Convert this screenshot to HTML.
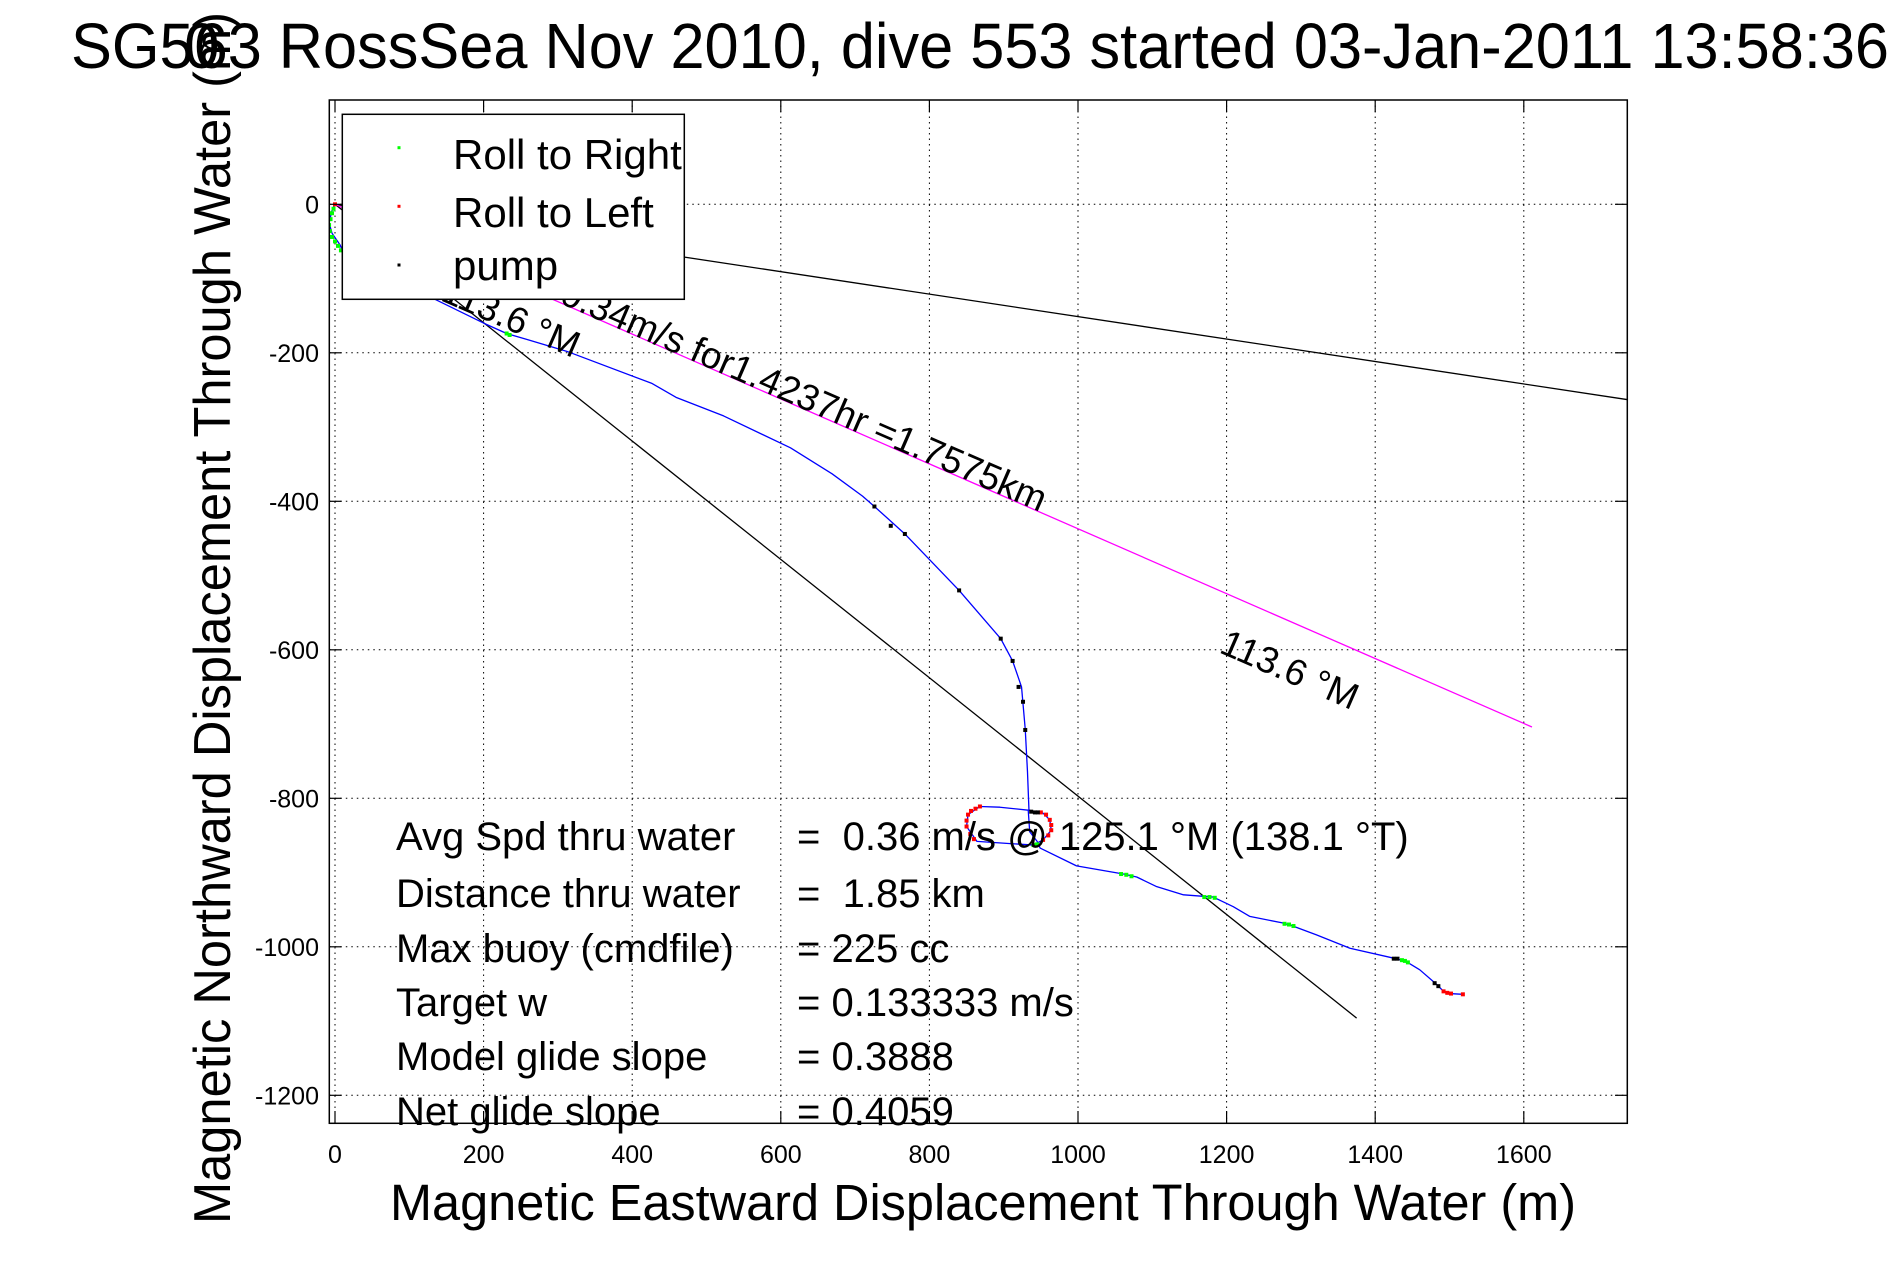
<!DOCTYPE html>
<html><head><meta charset="utf-8"><style>
html,body{margin:0;padding:0;background:#fff;}
svg{display:block;font-family:"Liberation Sans",sans-serif;}
</style></head><body>
<svg id="chart" width="1891" height="1262" viewBox="0 0 1891 1262" xmlns="http://www.w3.org/2000/svg">
<rect width="1891" height="1262" fill="#fff"/>
<defs><clipPath id="clip"><rect x="329.3" y="100" width="1298" height="1023.3"/></clipPath></defs>
<text transform="translate(230,1224) rotate(-90)" x="0" y="0" font-size="52" textLength="1212" lengthAdjust="spacingAndGlyphs">Magnetic Northward Displacement Through Water (m)</text>
<rect x="0" y="0" width="1891" height="8" fill="#fff"/>
<g id="title">
<text x="71" y="68" font-size="64" textLength="1818" lengthAdjust="spacingAndGlyphs">SG563 RossSea Nov 2010, dive 553 started 03-Jan-2011 13:58:36</text>
<text x="184" y="68" font-size="64">0</text>
</g>
<g id="grid"></g>
<g id="plot" clip-path="url(#clip)"></g>
<rect x="329.3" y="100" width="1298" height="1023.3" fill="none" stroke="#000" stroke-width="1.5"/>
<g id="ticks"></g>
<g id="stats" font-size="40"></g>
<g id="legend">
<rect x="342.3" y="114.3" width="342" height="185" fill="#fff" stroke="#000" stroke-width="1.5"/>
<rect x="397.5" y="146.2" width="3" height="3" fill="#0f0"/>
<text x="453" y="169" font-size="42">Roll to Right</text>
<rect x="397.5" y="204.8" width="3" height="3" fill="#f00"/>
<text x="453" y="227" font-size="42">Roll to Left</text>
<rect x="397.5" y="263.5" width="3" height="3" fill="#000"/>
<text x="453" y="280" font-size="42">pump</text>
</g>
<text x="390" y="1220" font-size="51" textLength="1186" lengthAdjust="spacingAndGlyphs">Magnetic Eastward Displacement Through Water (m)</text>
</svg>
<script>
const xTicks=[0,200,400,600,800,1000,1200,1400,1600];
const yTicks=[0,-200,-400,-600,-800,-1000,-1200];
const trackX=[0,-4,-8,-4,7,12,200,231,258,312,426,459,523,613,669,710,726,767,840,896,912,924,929,932,934,944,953,962,964,953,940,909,864,850,852,868,895,933,935,945,949,998,1061,1079,1106,1142,1182,1209,1231,1276,1289,1321,1366,1428,1442,1460,1483,1492,1500,1518];
const trackY=[0,-8,-25,-39,-55,-68,-160,-174,-182,-198,-241,-260,-285,-328,-363,-393,-407,-444,-520,-585,-615,-650,-707,-764,-816,-819,-820,-829,-843,-856,-863,-861,-858,-838,-822,-811,-812,-816,-845,-858,-867,-891,-902,-906,-919,-930,-933,-946,-959,-968,-972,-984,-1002,-1016,-1020,-1031,-1051,-1060,-1063,-1064];
const greenX=[-2,-4,-6,-8,-7,-4,0,4,8,231,235,940,945,1058,1065,1072,1170,1177,1184,1278,1284,1290,1436,1440,1444];
const greenY=[-6,-12,-20,-28,-36,-44,-50,-56,-62,-174,-176,-863,-862,-902,-903,-905,-933,-933,-934,-969,-970,-972,-1018,-1019,-1021];
const redX=[0,852,850,850,855,860,868,862,856,950,957,962,964,964,960,953,1492,1497,1502,1518];
const redY=[0,-822,-830,-838,-848,-855,-811,-814,-817,-819,-822,-829,-836,-843,-850,-856,-1060,-1062,-1063,-1064];
const pumpX=[726,748,767,840,896,912,920,926,929,937,942,946,1425,1430,1480,1485];
const pumpY=[-407,-433,-444,-520,-585,-615,-650,-670,-708,-818,-819,-819,-1016,-1016,-1049,-1053];
const refLineX=[0,1739];
const refLineY=[0,-263];
const line2X=[0,1375];
const line2Y=[0,-1096];
const magentaX=[0,1611];
const magentaY=[0,-704];
const statLabels=["Avg Spd thru water","Distance thru water","Max buoy (cmdfile)","Target w","Model glide slope","Net glide slope"];
const statValues=["=\u00a0\u00a00.36 m/s @ 125.1 °M (138.1 °T)","=\u00a0\u00a01.85 km","= 225 cc","= 0.133333 m/s","= 0.3888","= 0.4059"];

const NS="http://www.w3.org/2000/svg";
const X=v=>335+0.743*v;
const Y=v=>204.3-0.7425*v;
function mk(tag,attrs,parent){const e=document.createElementNS(NS,tag);for(const k in attrs)e.setAttribute(k,attrs[k]);parent.appendChild(e);return e;}
const grid=document.getElementById('grid'),plot=document.getElementById('plot'),ticks=document.getElementById('ticks'),stats=document.getElementById('stats');
xTicks.forEach(t=>{
 const l=mk('line',{x1:X(t),x2:X(t),y1:100,y2:1123.3,stroke:'#000','stroke-width':1,'stroke-dasharray':'1.5,4'},grid);
 
 
 const a=mk('line',{x1:X(t),x2:X(t),y1:1123.3,y2:1111,stroke:'#000','stroke-width':1.2},ticks);
 
 
 const b=mk('line',{x1:X(t),x2:X(t),y1:100,y2:112,stroke:'#000','stroke-width':1.2},ticks);
 
 
 const tx=mk('text',{x:X(t),y:1163,'font-size':25,'text-anchor':'middle'},ticks);
 tx.textContent=t;
 
 
});
yTicks.forEach(t=>{
 const l=mk('line',{x1:329.3,x2:1627.3,y1:Y(t),y2:Y(t),stroke:'#000','stroke-width':1,'stroke-dasharray':'1.5,4'},grid);
 
 
 const a=mk('line',{x1:329.3,x2:341.5,y1:Y(t),y2:Y(t),stroke:'#000','stroke-width':1.2},ticks);
 
 
 const b=mk('line',{x1:1615,x2:1627.3,y1:Y(t),y2:Y(t),stroke:'#000','stroke-width':1.2},ticks);
 
 
 const tx=mk('text',{x:319,y:Y(t)+9,'font-size':25,'text-anchor':'end'},ticks);
 tx.textContent=t;
 
 
});
function poly(xs,ys,color,name){
 const p=mk('polyline',{points:xs.map((x,i)=>X(x)+','+Y(ys[i])).join(' '),fill:'none',stroke:color,'stroke-width':1.3,'stroke-linejoin':'round'},plot);
 
 
}
poly(refLineX,refLineY,'#000','reference-line-1');
poly(line2X,line2Y,'#000','reference-line-2');
poly(magentaX,magentaY,'#f0f','heading-line');
poly(trackX,trackY,'#00f','dive-track');
function dots(xs,ys,color,name){
 xs.forEach((x,i)=>{
  const r=mk('rect',{x:X(x)-2,y:Y(ys[i])-2,width:4,height:4,fill:color},plot);
  
  
 });
}
dots(greenX,greenY,'#0f0','roll-right-marker');
dots(redX,redY,'#f00','roll-left-marker');
dots(pumpX,pumpY,'#000','pump-marker');
const ann=[["0.34m/s for1.4237hr =1.7575km",1040,512,'end'],["113.6 °M",573,358,'end'],["113.6 °M",1218,652,'start']];
ann.forEach(a=>{
 const t=mk('text',{x:0,y:0,'font-size':37,'text-anchor':a[3],transform:`translate(${a[1]},${a[2]}) rotate(23.5)`},plot);
 t.textContent=a[0];
 
 
});
const baselines=[850,907,962,1016,1070,1125];
statLabels.forEach((s,i)=>{
 const t=mk('text',{x:396,y:baselines[i]},stats);
 t.textContent=s;
 
 
 const v=mk('text',{x:797,y:baselines[i]},stats);
 v.textContent=statValues[i];
 
 
});
</script>
</body></html>
